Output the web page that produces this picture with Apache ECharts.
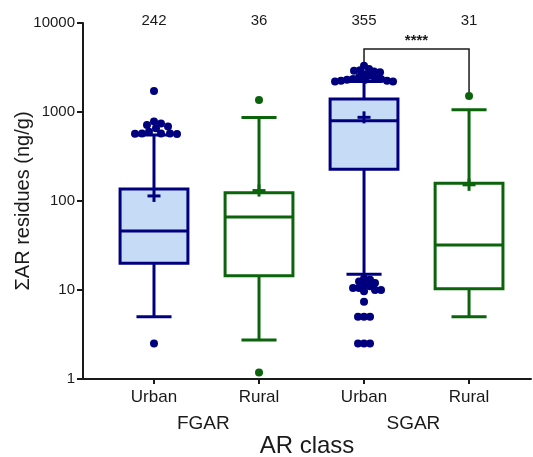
<!DOCTYPE html>
<html><head><meta charset="utf-8">
<script src="https://cdn.jsdelivr.net/npm/echarts@6/dist/echarts.min.js"></script>
<style>html,body{margin:0;padding:0;background:#fff}#c{width:533px;height:457px}</style>
</head><body><div id="c"></div>
<script>
// ---- data ----
const categories = ['Urban', 'Rural', 'Urban', 'Rural'];
const groupLabels = ['FGAR', 'SGAR'];
const counts = [242, 36, 355, 31];
const whiskerLow = [5, 2.74, 15, 5];
const q1 = [20, 14.5, 227, 10.3];
const median = [46, 66, 798, 32];
const q3 = [136, 124, 1400, 158];
const whiskerHigh = [550, 870, 2200, 1062];
const mean = [114, 131, 871, 152];
const outliersFGARUrban = [1720, 780, 745, 715, 685, 655, 600, 575, 575, 575, 570, 565, 2.5];
const outliersFGARRural = [1365, 1.18];
const outliersSGARUrban = [3300, 3050, 2950, 2900, 2850, 2800, 2650, 2550, 2450, 2400,
  2350, 2350, 2300, 2300, 2250, 2250, 2200, 2200,
  13.5, 13, 12.5, 12, 11.5, 11, 10.5, 10.5, 10, 10, 9.7, 7.4, 5, 5, 5, 2.5, 2.5, 2.5];
const outliersSGARRural = [1510];
const yTickValues = [1, 10, 100, 1000, 10000];
const sigPair = [3, 4];
const sigLevels = [5100, 3300, 1510]; // bracket top, left leg end, right leg end
const sigLabel = '****';

// ---- style ----
const FONT = '"Liberation Sans", Arial, sans-serif';
const NAVY = '#00007f', GREEN = '#0b640b', FILL = '#c6dbf5', INK = '#1a1a1a';
const strokeColors = [NAVY, GREEN, NAVY, GREEN];
const fillColors = [FILL, 'rgba(0,0,0,0)', FILL, 'rgba(0,0,0,0)'];
const dotSpacing = [7, 7, 5.5, 7];
const outlierSets = [outliersFGARUrban, outliersFGARRural, outliersSGARUrban, outliersSGARRural];
const BOX_HALF = 0.323, CAP_HALF = 0.167, LW = 3;

const boxData = categories.map((c, i) => [i + 1, whiskerLow[i], q1[i], median[i], q3[i], whiskerHigh[i], mean[i]]);
const dotData = categories.map((c, i) => [i + 1, median[i]]);
const countData = counts.map((n, i) => [i + 1, 10000, n]);
const sigData = [[sigPair[0], sigPair[1], sigLevels[0], sigLevels[1], sigLevels[2]]];

function renderBox(params, api) {
  const i = params.dataIndex;
  const x = api.value(0);
  const col = strokeColors[i];
  const px = v => api.coord([v, 1])[0];
  const py = v => api.coord([x, v])[1];
  const cx = px(x), l = px(x - BOX_HALF), r = px(x + BOX_HALF);
  const cl = px(x - CAP_HALF), cr = px(x + CAP_HALF);
  const yLo = py(api.value(1)), yQ1 = py(api.value(2)), yMed = py(api.value(3));
  const yQ3 = py(api.value(4)), yHi = py(api.value(5)), yMean = py(api.value(6));
  const st = { stroke: col, lineWidth: LW, fill: null };
  const line = (x1, y1, x2, y2) => ({ type: 'line', shape: { x1, y1, x2, y2 }, style: st });
  return {
    type: 'group',
    children: [
      line(cx, yQ3, cx, yHi), line(cl, yHi, cr, yHi),
      line(cx, yQ1, cx, yLo), line(cl, yLo, cr, yLo),
      { type: 'rect', shape: { x: l, y: yQ3, width: r - l, height: yQ1 - yQ3 },
        style: { stroke: col, lineWidth: LW, fill: fillColors[i] } },
      line(l, yMed, r, yMed),
      line(cx - 6.5, yMean, cx + 6.5, yMean), line(cx, yMean - 6, cx, yMean + 6)
    ]
  };
}

function renderDots(params, api) {
  const i = params.dataIndex;
  const x = api.value(0);
  const cx = api.coord([x, 1])[0];
  const vals = outlierSets[i].slice().sort((a, b) => b - a);
  const minD = dotSpacing[i];
  const placed = [];
  const children = [];
  vals.forEach(v => {
    const y = api.coord([x, v])[1];
    let off = 0;
    for (let k = 0; k < 400; k++) {
      const cand = k === 0 ? 0 : (k % 2 === 1 ? (k + 1) / 2 : -k / 2);
      if (placed.every(q => (cand - q[0]) ** 2 + (y - q[1]) ** 2 >= minD * minD)) { off = cand; break; }
    }
    placed.push([off, y]);
    children.push({ type: 'circle', shape: { cx: cx + off, cy: y, r: 4 }, style: { fill: strokeColors[i] } });
  });
  return { type: 'group', children };
}

function renderCount(params, api) {
  const p = api.coord([api.value(0), api.value(1)]);
  return { type: 'text', x: p[0], y: p[1] - 2,
    style: { text: String(api.value(2)), fill: INK, font: '15px ' + FONT, align: 'center', verticalAlign: 'middle' } };
}

function renderSig(params, api) {
  const a = api.coord([api.value(0), api.value(2)]);
  const b = api.coord([api.value(1), api.value(2)]);
  const yl = api.coord([api.value(0), api.value(3)])[1];
  const yr = api.coord([api.value(1), api.value(4)])[1];
  return { type: 'group', children: [
    { type: 'polyline', shape: { points: [[a[0], yl], [a[0], a[1]], [b[0], b[1]], [b[0], yr]] },
      style: { stroke: INK, lineWidth: 1.5, fill: null } },
    { type: 'text', x: (a[0] + b[0]) / 2, y: a[1] - 8,
      style: { text: sigLabel, fill: INK, font: 'bold 15px ' + FONT, align: 'center', verticalAlign: 'middle' } }
  ] };
}

const chart = echarts.init(document.getElementById('c'), null, { renderer: 'canvas' });
const X_MIN = 0.324, X_MAX = 4.59;
chart.setOption({
  backgroundColor: '#fff',
  animation: false,
  textStyle: { fontFamily: FONT },
  grid: { left: 83, right: 2, top: 23, bottom: 78, containLabel: false, outerBoundsMode: 'none' },
  xAxis: [{
    type: 'value', min: X_MIN, max: X_MAX, position: 'bottom',
    axisLine: { show: true, onZero: false, lineStyle: { color: INK, width: 2 } },
    axisTick: { show: true, customValues: [1, 2, 3, 4], length: 5, lineStyle: { color: INK, width: 2 } },
    axisLabel: { customValues: [1, 2, 3, 4], formatter: v => categories[Math.round(v) - 1],
      fontSize: 17, color: INK, margin: 10, fontFamily: FONT },
    splitLine: { show: false }
  }, {
    type: 'value', min: X_MIN, max: X_MAX, position: 'bottom',
    axisLine: { show: false }, axisTick: { show: false }, splitLine: { show: false },
    axisLabel: { customValues: [1.47, 3.47], formatter: v => (v < 2.5 ? groupLabels[0] : groupLabels[1]),
      fontSize: 19, color: INK, margin: 35, fontFamily: FONT },
    name: 'AR class', nameLocation: 'middle', nameGap: 55, nameMoveOverlap: false,
    nameTextStyle: { fontSize: 24, color: INK, fontFamily: FONT }
  }],
  yAxis: {
    type: 'log', logBase: 10, min: yTickValues[0], max: yTickValues[yTickValues.length - 1],
    axisLine: { show: true, lineStyle: { color: INK, width: 2 } },
    axisTick: { show: true, length: 6, lineStyle: { color: INK, width: 2 } },
    axisLabel: { formatter: v => String(Math.round(v)), fontSize: 15, color: INK, margin: 8, fontFamily: FONT },
    splitLine: { show: false },
    name: 'ΣAR residues (ng/g)', nameLocation: 'middle', nameGap: 50, nameMoveOverlap: false,
    nameTextStyle: { fontSize: 20, color: INK, fontFamily: FONT }
  },
  series: [
    { type: 'custom', name: 'box', renderItem: renderBox, data: boxData, encode: { x: 0, y: [1, 2, 3, 4, 5, 6] }, z: 2 },
    { type: 'custom', name: 'sig', renderItem: renderSig, data: sigData, encode: { x: [0, 1], y: [2, 3, 4] }, z: 2 },
    { type: 'custom', name: 'dots', renderItem: renderDots, data: dotData, encode: { x: 0, y: 1 }, z: 3 },
    { type: 'custom', name: 'counts', renderItem: renderCount, data: countData, encode: { x: 0, y: 1 }, z: 3 }
  ]
});
</script></body></html>
